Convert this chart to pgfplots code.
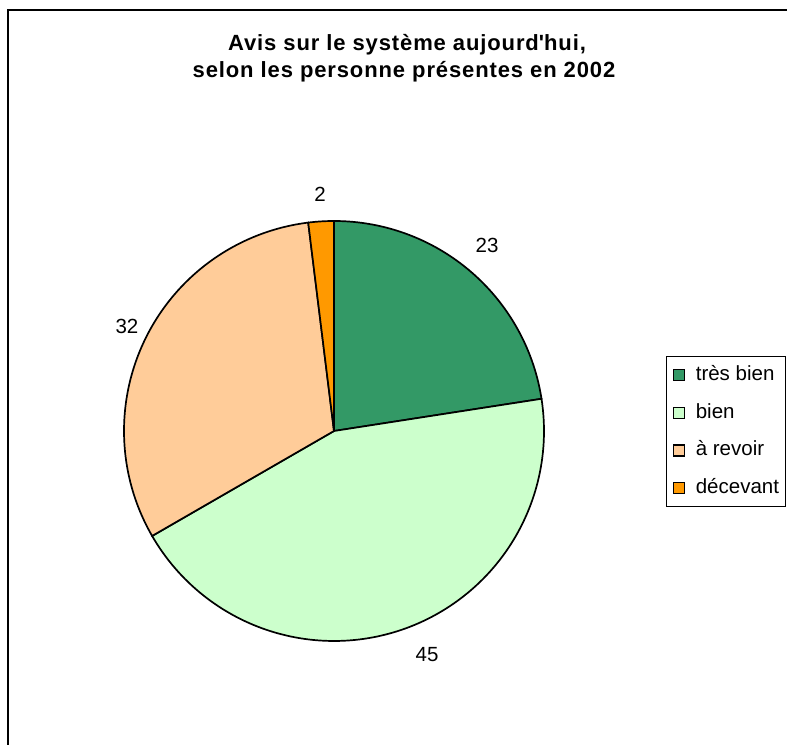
\documentclass[border=0pt]{standalone}
\usepackage{pgfplots}
\usepackage{pgfplotstable}
\pgfplotsset{compat=1.18}
\usepackage{fontspec}
\setmainfont{Liberation Sans}
\newfontfamily\titlefont{Liberation Sans}[LetterSpace=4]
\definecolor{cA}{HTML}{339966}
\definecolor{cB}{HTML}{CCFFCC}
\definecolor{cC}{HTML}{FFCC99}
\definecolor{cD}{HTML}{FF9900}
\pgfplotstableread{
part value
1 23
2 45
3 32
4 2
}\piedata
\begin{document}
\begin{tikzpicture}
\pgfplotstablegetelem{0}{value}\of\piedata \let\vA\pgfplotsretval
\pgfplotstablegetelem{1}{value}\of\piedata \let\vB\pgfplotsretval
\pgfplotstablegetelem{2}{value}\of\piedata \let\vC\pgfplotsretval
\pgfplotstablegetelem{3}{value}\of\piedata \let\vD\pgfplotsretval
\pgfmathsetmacro\tot{\vA+\vB+\vC+\vD}
\pgfmathsetmacro\aA{90}
\pgfmathsetmacro\aB{\aA-360*\vA/\tot}
\pgfmathsetmacro\aC{\aB-360*\vB/\tot}
\pgfmathsetmacro\aD{\aC-360*\vC/\tot}
\pgfmathsetmacro\aE{\aD-360*\vD/\tot}
\begin{axis}[
  at={(0,0)}, anchor=south west,
  scale only axis, width=787bp, height=745bp,
  xmin=0, xmax=787, ymin=0, ymax=745,
  axis lines=none, clip=false,
  legend image code/.code={\draw[#1, draw=black, line width=1.3bp] (0bp,-5.5bp) rectangle (11bp,5.5bp);},
  legend style={at={(axis cs:666,389)}, anchor=north west, draw=black, line width=1bp,
    inner xsep=6bp, inner ysep=9bp, row sep=18.7bp,
    font=\fontsize{20.5bp}{24bp}\selectfont,
    nodes={inner sep=0pt, text height=15bp, text depth=4bp},
    /tikz/every odd column/.append style={column sep=11bp}},
  legend cell align=left,
]
\addplot[fill=cA, draw=black, line width=1.7bp, domain=\aB:\aA, samples=80] ({334+210*cos(x)},{314+210*sin(x)}) -- (axis cs:334,314) -- cycle;
\addlegendentry{très bien}
\addplot[fill=cB, draw=black, line width=1.7bp, domain=\aC:\aB, samples=120] ({334+210*cos(x)},{314+210*sin(x)}) -- (axis cs:334,314) -- cycle;
\addlegendentry{bien}
\addplot[fill=cC, draw=black, line width=1.7bp, domain=\aD:\aC, samples=100] ({334+210*cos(x)},{314+210*sin(x)}) -- (axis cs:334,314) -- cycle;
\addlegendentry{à revoir}
\addplot[fill=cD, draw=black, line width=1.7bp, domain=\aE:\aD, samples=10] ({334+210*cos(x)},{314+210*sin(x)}) -- (axis cs:334,314) -- cycle;
\addlegendentry{décevant}
\begin{scope}[font=\fontsize{20.5bp}{24bp}\selectfont]
\node at (axis cs:487,500) {23};
\node at (axis cs:427,90) {45};
\node at (axis cs:127,419) {32};
\node at (axis cs:320,551) {2};
\end{scope}
\begin{scope}[font=\fontsize{22bp}{26bp}\titlefont\bfseries]
\node[anchor=base] at (axis cs:407,694) {Avis sur le système aujourd\textquotesingle hui,};
\node[anchor=base] at (axis cs:404,667) {selon les personne présentes en 2002};
\end{scope}
\draw[line width=1.2bp] (axis cs:8,0) -- (axis cs:8,735) -- (axis cs:800,735);
\end{axis}
\pgfresetboundingbox
\path (0,0) rectangle (787bp,745bp);
\end{tikzpicture}
\end{document}
